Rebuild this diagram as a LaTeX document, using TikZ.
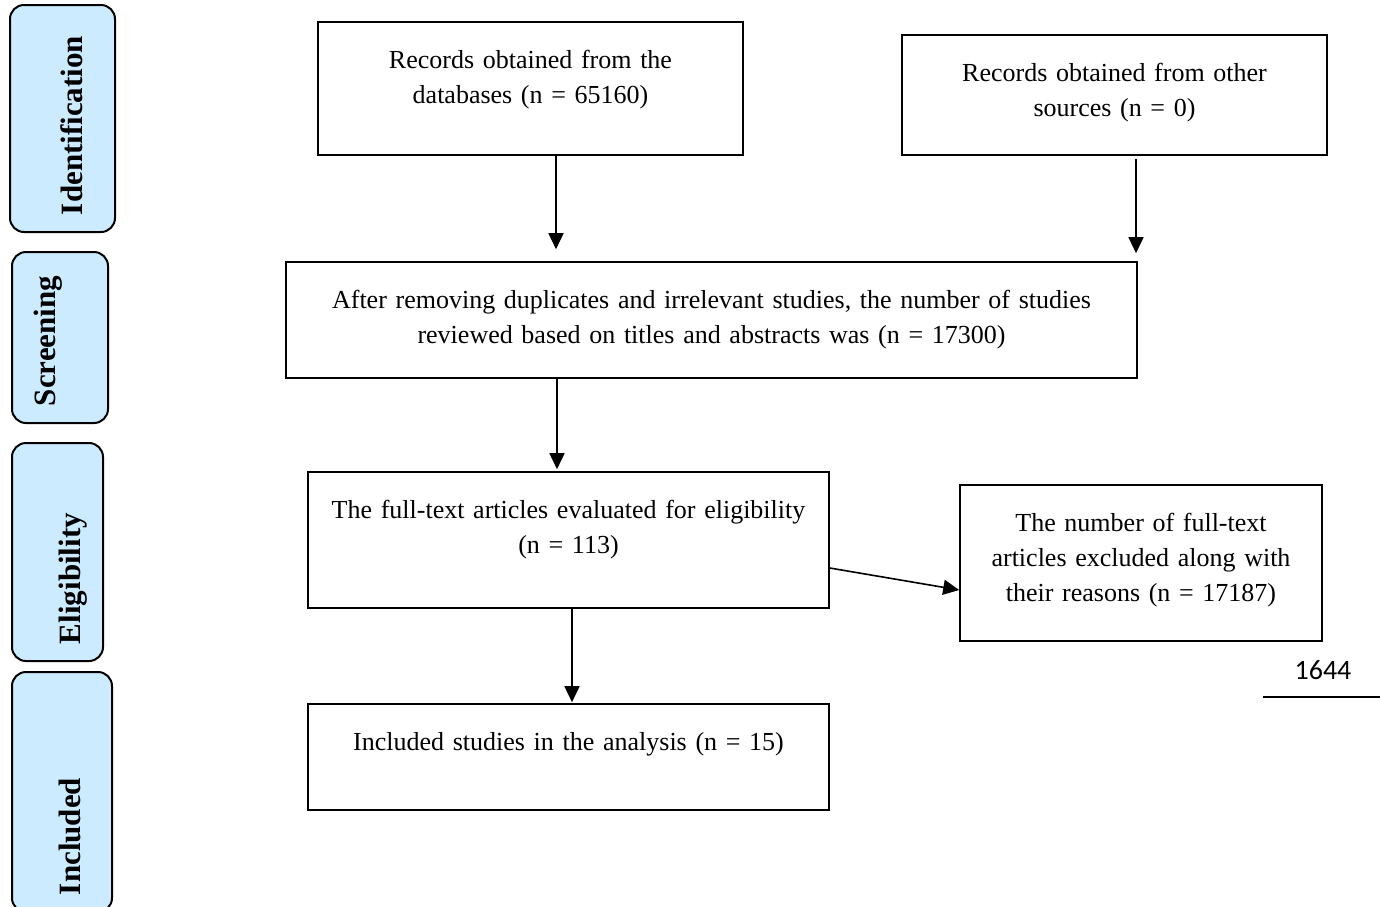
\documentclass[tikz,border=0pt]{standalone}
\usepackage{fontspec}
\setmainfont{Liberation Serif}
\newfontfamily\numfont{Carlito}
\usepackage{xcolor}
\usetikzlibrary{arrows.meta}
\definecolor{stageblue}{HTML}{CCEBFF}

\begin{document}
\begin{tikzpicture}[
  x=0.5pt,y=-0.5pt,
  box/.style={draw,line width=0.8pt,align=center,inner xsep=4pt,inner ysep=0pt,text height=23pt,font=\fontsize{13}{17.5}\selectfont},
  stage/.style={draw,line width=1pt,rounded corners=7pt,fill=stageblue,rotate=90,align=left,inner xsep=8.5pt,inner ysep=0pt,font=\fontsize{15.5}{18}\selectfont\bfseries},
  arr/.style={-{Triangle[length=8pt,width=7.5pt]},line width=0.8pt}
]
\clip (0,0) rectangle (1380,906);
% stage labels on the left
\node[stage,text width=96.5pt,text height=36pt,text depth=16.5pt] (ident) at (62.5,118.5) {Identification};
\node[stage,text width=68.5pt,text height=21.5pt,text depth=26.5pt] (screen) at (60,337.5) {Screening};
\node[stage,text width=92pt,text height=34pt,text depth=11.5pt] (elig) at (57.5,552) {Eligibility};
\node[stage,text width=103pt,text height=34pt,text depth=16pt] (incl) at (62,792) {Included};
% flow boxes
\node[box,text width=204.5pt,text depth=43.5pt] (dbrec) at (530.5,88.5) {Records obtained from the\\databases (n = 65160)};
\node[box,text width=204.5pt,text depth=37pt] (otherrec) at (1114.5,95) {Records obtained from other\\sources (n = 0)};
\node[box,text width=417.5pt,text depth=35pt] (screened) at (711.5,320) {After removing duplicates and irrelevant studies, the number of studies\\reviewed based on titles and abstracts was (n = 17300)};
\node[box,text width=252.5pt,text depth=45pt] (fulltext) at (568.5,540) {The full-text articles evaluated for eligibility\\(n = 113)};
\node[box,text width=173pt,text depth=55pt] (excluded) at (1141,563) {The number of full-text\\articles excluded along with\\their reasons (n = 17187)};
\node[box,text width=252.5pt,text depth=30pt] (included) at (568.5,757) {Included studies in the analysis (n = 15)};
% arrows
\draw[arr,shorten >=6pt] ([xshift=12.75pt]dbrec.south) -- ([xshift=12.75pt]dbrec.south |- screened.north);
\draw[arr,shorten <=1.5pt,shorten >=4pt] ([xshift=10.75pt]otherrec.south) -- ([xshift=10.75pt]otherrec.south |- screened.north);
\draw[arr,shorten >=1pt] ([xshift=-5.75pt]fulltext.north |- screened.south) -- ([xshift=-5.75pt]fulltext.north);
\draw[arr] ([yshift=-14pt]fulltext.east) -- ([yshift=-13.5pt]excluded.west);
\draw[arr,shorten >=0.5pt] ([xshift=1.75pt]fulltext.south) -- ([xshift=1.75pt]included.north);
% page number
\node[font=\numfont\fontsize{14}{16}\selectfont] (pagenum) at (1323,670) {1644};
\draw[line width=1pt] (1263,697) -- (1380,697);
\end{tikzpicture}
\end{document}
